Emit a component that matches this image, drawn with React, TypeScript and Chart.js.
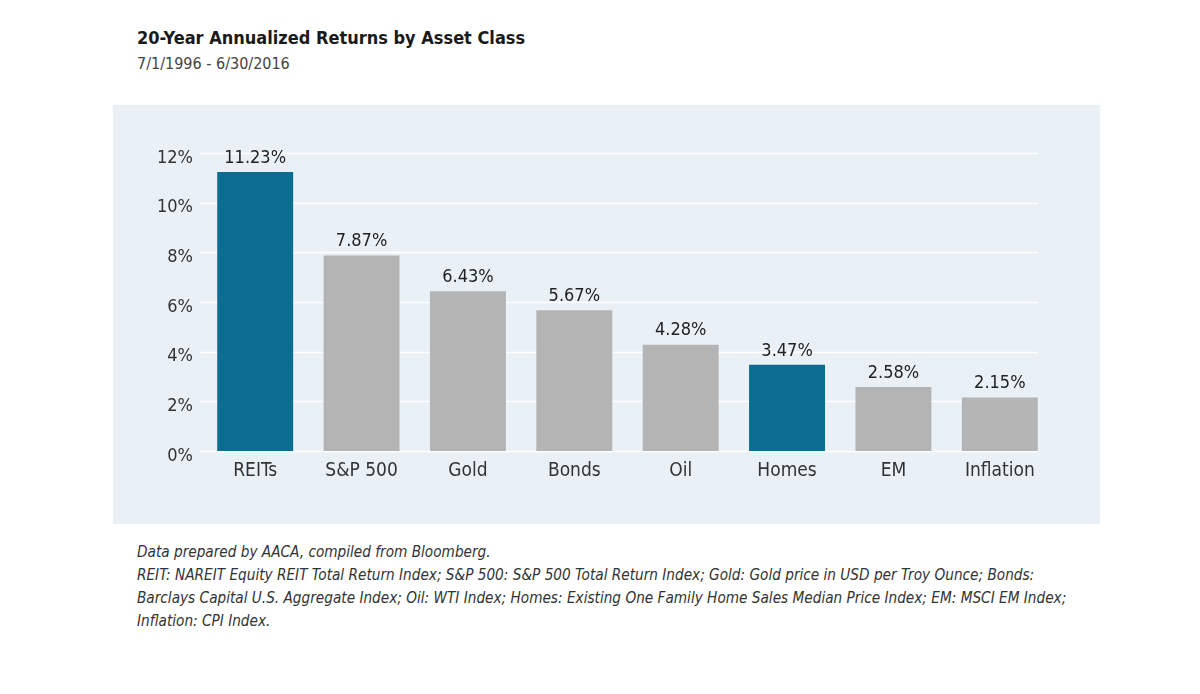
import React, { useEffect, useRef } from "react";
import { Chart, registerables } from "chart.js";

Chart.register(...registerables);

const categories = ["REITs", "S&P 500", "Gold", "Bonds", "Oil", "Homes", "EM", "Inflation"];
const returns = [11.23, 7.87, 6.43, 5.67, 4.28, 3.47, 2.58, 2.15];
const highlighted = ["REITs", "Homes"];
const yTicks = [0, 2, 4, 6, 8, 10, 12];

const TEAL = "#0d6d90";
const GRAY = "#b4b4b4";
const FONT = "'Liberation Sans Narrow', 'DejaVu Sans Condensed', 'Roboto', sans-serif";

const footLines = [
  "Data prepared by AACA, compiled from Bloomberg.",
  "REIT: NAREIT Equity REIT Total Return Index; S&P 500: S&P 500 Total Return Index; Gold: Gold price in USD per Troy Ounce; Bonds:",
  "Barclays Capital U.S. Aggregate Index; Oil: WTI Index; Homes: Existing One Family Home Sales Median Price Index; EM: MSCI EM Index;",
  "Inflation: CPI Index.",
];

export default function App() {
  const ref = useRef<HTMLCanvasElement | null>(null);

  useEffect(() => {
    if (!ref.current) return;
    const gridPlugin = {
      id: "customGrid",
      beforeDatasetsDraw(chart: any) {
        const { ctx, chartArea, scales } = chart;
        const meta = chart.getDatasetMeta(0);
        const last = meta.data[meta.data.length - 1] as any;
        const right = last.x + last.width / 2;
        ctx.save();
        ctx.strokeStyle = "#ffffff";
        ctx.lineWidth = 1.5;
        yTicks.forEach((t) => {
          const y = Math.round(scales.y.getPixelForValue(t)) + 0.5;
          ctx.beginPath();
          ctx.moveTo(chartArea.left - 2, y);
          ctx.lineTo(right, y);
          ctx.stroke();
        });
        ctx.restore();
      },
    };
    const labelPlugin = {
      id: "valueLabels",
      afterDatasetsDraw(chart: any) {
        const { ctx } = chart;
        const meta = chart.getDatasetMeta(0);
        ctx.save();
        ctx.fillStyle = "#222222";
        ctx.font = `18px ${FONT}`;
        ctx.textAlign = "center";
        ctx.textBaseline = "bottom";
        meta.data.forEach((bar: any, i: number) => {
          ctx.fillText(returns[i].toFixed(2) + "%", bar.x, bar.y - 5);
        });
        ctx.restore();
      },
    };
    const chart = new Chart(ref.current, {
      type: "bar",
      data: {
        labels: categories,
        datasets: [
          {
            data: returns,
            backgroundColor: categories.map((c) => (highlighted.includes(c) ? TEAL : GRAY)),
            categoryPercentage: 1,
            barPercentage: 0.714,
            borderWidth: 0,
          },
        ],
      },
      options: {
        animation: false,
        responsive: false,
        maintainAspectRatio: false,
        layout: { padding: { top: 48, right: 47, bottom: 33, left: 0 } },
        plugins: {
          legend: { display: false },
          tooltip: { enabled: false },
        },
        scales: {
          x: {
            grid: { display: false, drawTicks: false },
            border: { display: false },
            ticks: {
              color: "#333333",
              font: { family: FONT, size: 19 },
              padding: 9,
            },
            afterFit: (axis: any) => {
              axis.height = 40;
            },
          },
          y: {
            min: 0,
            max: 12,
            grid: { display: false, drawTicks: false },
            border: { display: false },
            afterBuildTicks: (axis: any) => {
              axis.ticks = yTicks.map((v) => ({ value: v }));
            },
            ticks: {
              color: "#333333",
              font: { family: FONT, size: 18 },
              padding: 9,
              labelOffset: 5,
              callback: (v: any) => v + "%",
            },
            afterFit: (axis: any) => {
              axis.width = 89;
            },
          },
        },
      },
      plugins: [gridPlugin, labelPlugin],
    });
    return () => chart.destroy();
  }, []);

  return (
    <div
      style={{
        position: "absolute",
        left: 0,
        top: 0,
        width: 1200,
        height: 694,
        background: "#ffffff",
        fontFamily: FONT,
        overflow: "hidden",
      }}
    >
      <div
        style={{
          position: "absolute",
          left: 137,
          top: 27,
          fontSize: 18,
          fontWeight: "bold",
          color: "#1a1a1a",
          whiteSpace: "nowrap",
        }}
      >
        20-Year Annualized Returns by Asset Class
      </div>
      <div
        style={{
          position: "absolute",
          left: 137,
          top: 54,
          fontSize: 16,
          color: "#444444",
          whiteSpace: "nowrap",
        }}
      >
        7/1/1996 - 6/30/2016
      </div>
      <div
        style={{
          position: "absolute",
          left: 113,
          top: 105,
          width: 987,
          height: 419,
          background: "#e9f1f7",
        }}
      >
        <canvas ref={ref} width={987} height={419} style={{ display: "block", width: 987, height: 419 }} />
      </div>
      <div
        style={{
          position: "absolute",
          left: 137,
          top: 541,
          fontSize: 15.2,
          fontStyle: "italic",
          color: "#333333",
          lineHeight: "23px",
          whiteSpace: "nowrap",
        }}
      >
        {footLines.map((l, i) => (
          <div key={i}>{l}</div>
        ))}
      </div>
    </div>
  );
}
